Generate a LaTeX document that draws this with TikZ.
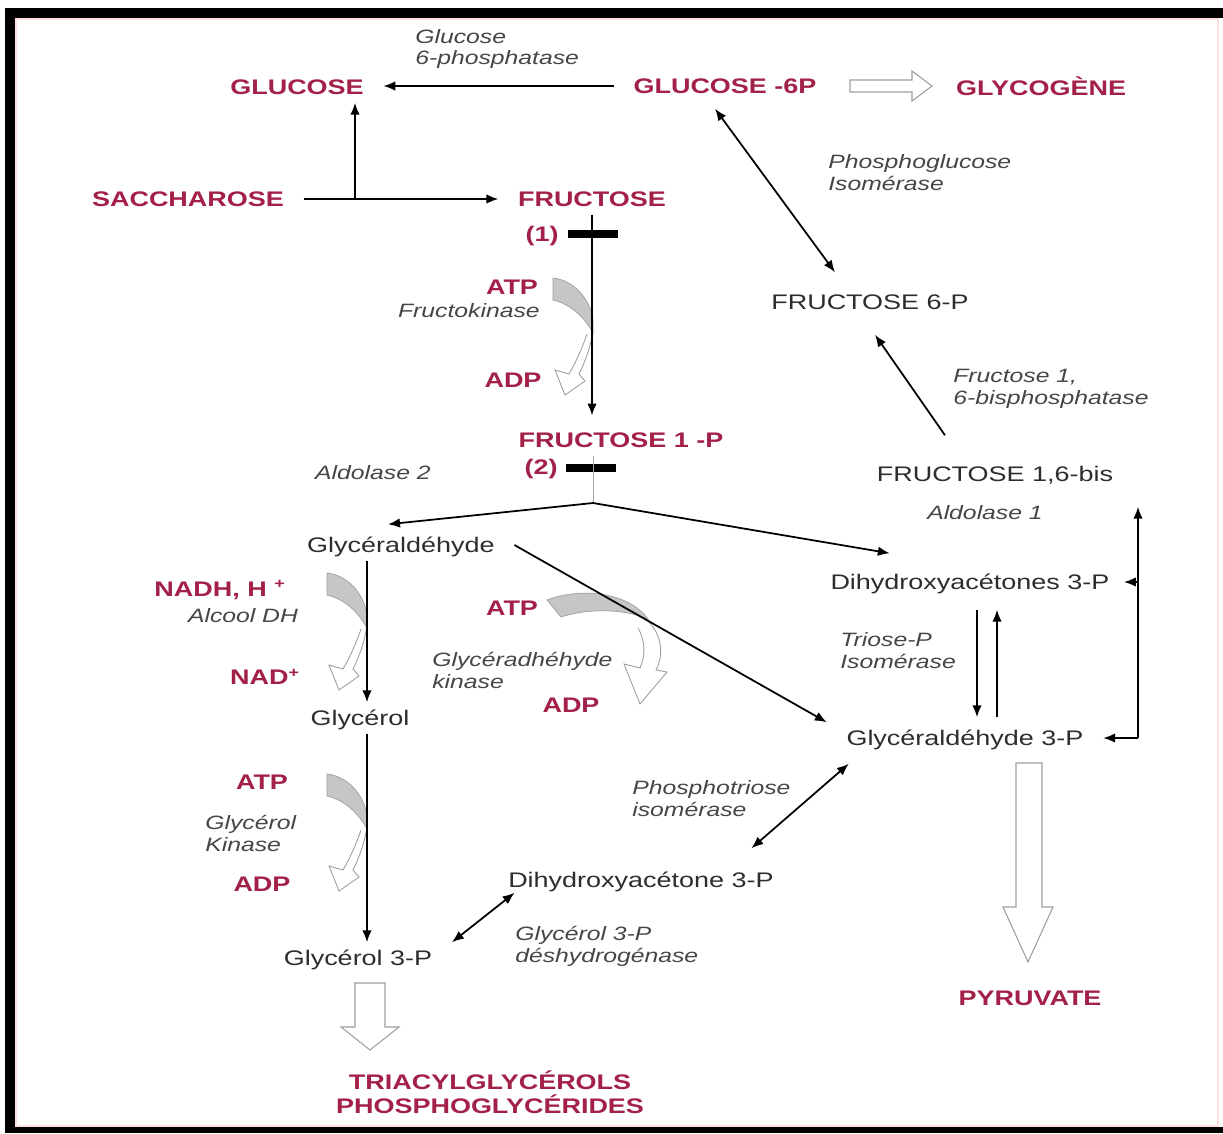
\documentclass[tikz,border=0pt]{standalone}
\usepackage{fontspec}
\setmainfont{Liberation Sans}[FakeStretch=1.28]
\usetikzlibrary{arrows.meta,calc}
\definecolor{BCred}{RGB}{163,33,72}
\definecolor{BCdark}{RGB}{45,45,45}
\definecolor{BCgray}{RGB}{70,70,70}
\tikzset{
  metab/.style={font=\fontsize{12}{14}\selectfont\bfseries,text=BCred,
                inner xsep=11pt,inner ysep=3pt,text height=10pt,text depth=1.5pt},
  inter/.style={font=\fontsize{12}{14}\selectfont,text=BCdark,
                inner xsep=11pt,inner ysep=3pt,text height=10pt,text depth=1.5pt},
  cof/.style={font=\fontsize{12}{14}\selectfont\bfseries,text=BCred,inner sep=0pt},
  enz/.style={font=\fontsize{11}{12.5}\selectfont\itshape,text=BCgray,align=left,inner sep=0pt},
  blockbar/.style={fill=black,minimum width=28pt,minimum height=4.5pt,inner sep=0pt},
  fl/.style={-{Latex[length=2.4mm,width=1.9mm]},line width=1pt},
  flb/.style={{Latex[length=2.4mm,width=1.9mm]}-{Latex[length=2.4mm,width=1.9mm]},line width=1pt},
  hollow/.style={draw=gray!75,line width=0.6pt,fill=white},
  hollowline/.style={draw=gray!75,line width=0.5pt},
  crescent/.style={fill=gray!45,draw=gray!75,line width=0.4pt}
}
% curved cofactor arrow beside a vertical step
\newcommand{\cofarrow}[1]{%
  \begin{scope}[shift={#1}]
    \filldraw[crescent] (-40,0) .. controls (-20,2) and (-3,20) .. (0,42) -- (0,55)
      .. controls (-8,40) and (-22,26) .. (-40,22) -- cycle;
    \draw[hollowline] (0,52) .. controls (-2,68) and (-8,84) .. (-14,96) -- (-8,103)
      -- (-28,117) -- (-38,92) -- (-24,96) .. controls (-16,82) and (-10,68) .. (-6,56);
  \end{scope}}

\begin{document}
\begin{tikzpicture}[x=0.02cm,y=-0.02cm]
  \useasboundingbox (0,0) rectangle (1223,1133);
  \fill[white] (0,0) rectangle (1223,1133);
  % frame
  \draw[pink!50,line width=0.6pt] (16,19) rectangle (1218,1126);
  \fill[black] (5,8) rectangle (1223,18);
  \fill[black] (5,8) rectangle (15,1133);
  \fill[black] (5,1127) rectangle (1223,1133);

  % metabolites
  \node[metab] (glucose) at (297,87) {GLUCOSE};
  \node[metab] (gsixp) at (725,86) {GLUCOSE -6P};
  \node[metab] (glycogene) at (1041,88) {GLYCOGÈNE};
  \node[metab] (saccharose) at (188,199) {SACCHAROSE};
  \node[metab] (fructose) at (592,199) {FRUCTOSE};
  \node[metab] (fonep) at (621,440) {FRUCTOSE 1 -P};
  \node[inter] (fsixp) at (870,302) {FRUCTOSE 6-P};
  \node[inter] (fbis) at (995,474) {FRUCTOSE 1,6-bis};
  \node[inter] (glyceraldehyde) at (401,545) {Glycéraldéhyde};
  \node[inter] (dhap) at (970,582) {Dihydroxyacétones 3-P};
  \node[inter] (glycerol) at (360,718) {Glycérol};
  \node[inter] (ga3p) at (965,738) {Glycéraldéhyde 3-P};
  \node[inter] (dhaptwo) at (641,880) {Dihydroxyacétone 3-P};
  \node[inter] (glycerolp) at (358,958) {Glycérol 3-P};
  \node[metab] (pyruvate) at (1030,998) {PYRUVATE};
  \node[cof,align=center,font=\fontsize{12}{13.7}\selectfont\bfseries] (lipids) at (490,1092)
    {TRIACYLGLYCÉROLS\\PHOSPHOGLYCÉRIDES};

  % enzymes
  \node[enz,anchor=west] (gsixpase) at (415,49) {Glucose\\6-phosphatase};
  \node[enz,anchor=west] (pgi) at (828,173) {Phosphoglucose\\Isomérase};
  \node[enz,anchor=east] (fk) at (540,311) {Fructokinase};
  \node[enz,anchor=west] (fbpase) at (953,389) {Fructose 1,\\6-bisphosphatase};
  \node[enz] (aldotwo) at (373,473) {Aldolase 2};
  \node[enz] (aldoone) at (985,513) {Aldolase 1};
  \node[enz] (adh) at (243,616) {Alcool DH};
  \node[enz,anchor=west] (tpi) at (840,651) {Triose-P\\Isomérase};
  \node[enz,anchor=west] (gak) at (432,670) {Glycéradhéhyde\\kinase};
  \node[enz,anchor=west] (pti) at (632,799) {Phosphotriose\\isomérase};
  \node[enz,anchor=west] (gk) at (205,833) {Glycérol\\Kinase};
  \node[enz,anchor=west] (gpdh) at (515,946) {Glycérol 3-P\\déshydrogénase};

  % cofactors
  \node[cof] (one) at (542,236) {(1)};
  \node[cof] (two) at (541,469) {(2)};
  \node[cof] (atpa) at (512,287) {ATP};
  \node[cof] (adpa) at (513,380) {ADP};
  \node[cof] (nadh) at (220,590) {NADH, H \textsuperscript{+}};
  \node[cof] (nad) at (265,677) {NAD\textsuperscript{+}};
  \node[cof] (atpb) at (512,608) {ATP};
  \node[cof] (adpb) at (571,705) {ADP};
  \node[cof] (atpc) at (262,782) {ATP};
  \node[cof] (adpc) at (262,884) {ADP};

  % curved cofactor arrows
  \cofarrow{(593,278)}
  \cofarrow{(367,573)}
  \cofarrow{(367,774)}
  \filldraw[crescent] (547,600) .. controls (585,586) and (630,594) .. (648,619)
    .. controls (628,610) and (592,607) .. (561,617) -- cycle;
  \draw[hollowline] (648,621) .. controls (662,635) and (664,655) .. (656,670) -- (667,672)
    -- (640,704) -- (624,664) -- (640,668) .. controls (646,655) and (645,640) .. (638,628);

  % hollow arrows
  \draw[hollow] (850,80) -- (912,80) -- (912,71) -- (932,86) -- (912,101) -- (912,92)
    -- (850,92) -- cycle;
  \draw[hollow] (1016,763) -- (1042,763) -- (1042,907) -- (1053,907) -- (1028,962)
    -- (1003,907) -- (1016,907) -- cycle;
  \draw[hollow] (355,983) -- (385,983) -- (385,1027) -- (399,1027) -- (370,1050)
    -- (341,1027) -- (355,1027) -- cycle;

  % blocks
  \node[blockbar] (barone) at (593,234) {};
  \node[blockbar] (bartwo) at (591,468) {};

  % reactions
  \coordinate (br) at (355,199);
  \coordinate (split) at (593,503);
  \coordinate (vl) at (367,600);
  \coordinate (rb) at (1138,738);
  \draw[fl] (gsixp.west) -- (gsixp.west -| glucose.east);
  \draw[line width=1pt] (saccharose.east) -- (br);
  \draw[fl] (br) -- (fructose.west);
  \draw[fl] (br) -- (br |- glucose.south);
  \draw[fl] (fructose.south) -- ([yshift=5pt]fructose.south |- fonep.north);
  \draw[gray!70,line width=0.5pt] (split |- fonep.south) -- (split);
  \draw[fl] (split) -- ($(glyceraldehyde.north)+(-13,-5)$);
  \draw[fl] (split) -- ($(dhap.north west)+(79,-13)$);
  \draw[fl] (glyceraldehyde.east) -- (ga3p.north west);
  \draw[fl] (vl |- glyceraldehyde.south) -- (vl |- glycerol.north);
  \draw[fl] (vl |- glycerol.south) -- (vl |- glycerolp.north);
  \draw[flb] (glycerolp.north east) -- ($(dhaptwo.south west)+(26,-3)$);
  \draw[flb] ($(dhaptwo.north east)+(-42,-16)$) -- ($(ga3p.south west)+(22,10)$);
  \draw[flb] ($(gsixp.south)+(-10,7)$) -- ($(fsixp.north)+(-35,-14)$);
  \draw[fl] ($(fbis.north)+(-50,-23)$) -- ($(fsixp.south)+(5,17)$);
  \draw[fl] ($(dhap.south)+(7,12)$) -- ($(ga3p.north)+(12,-5)$);
  \draw[fl] ($(ga3p.north)+(32,-5)$) -- ($(dhap.south)+(27,12)$);
  \draw[line width=1pt] (rb |- dhap.east) -- (rb);
  \draw[fl] (rb) -- ($(rb |- fbis.south)+(0,17)$);
  \draw[fl] (rb) -- (ga3p.east);
  \draw[fl] (rb |- dhap.east) -- ([xshift=-3pt]dhap.east);
\end{tikzpicture}
\end{document}
